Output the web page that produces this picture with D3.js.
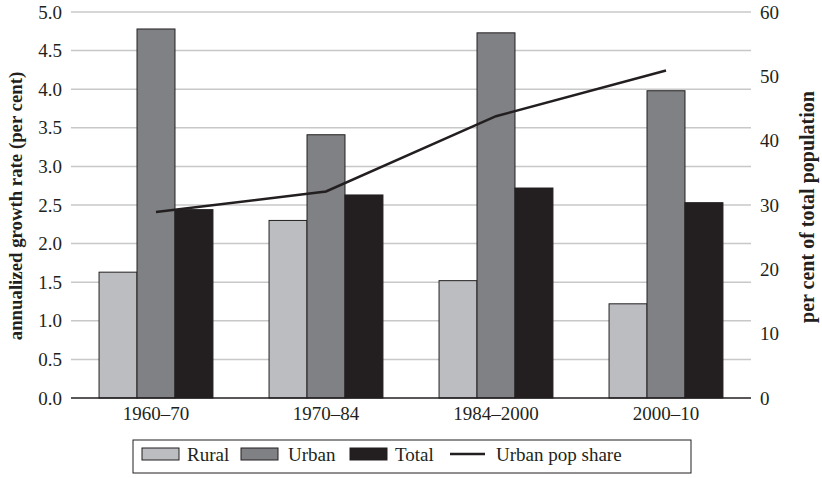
<!DOCTYPE html>
<html><head><meta charset="utf-8">
<script src="https://cdn.jsdelivr.net/npm/d3@7"></script>
<style>body{margin:0;background:#fff}svg{display:block;font-family:"Liberation Serif","Times New Roman",serif}</style>
</head><body><svg id="c" width="822" height="478"></svg>
<script>
const categories = ["1960–70","1970–84","1984–2000","2000–10"];
const rural = [1.63, 2.30, 1.52, 1.22];
const urban = [4.78, 3.41, 4.73, 3.98];
const total = [2.44, 2.63, 2.72, 2.53];
const urbanShare = [28.9, 32.1, 43.8, 50.9];
const leftTicks = [0,0.5,1,1.5,2,2.5,3,3.5,4,4.5,5];
const rightTicks = [0,10,20,30,40,50,60];
const seriesNames = ["Rural","Urban","Total"];
const colors = {Rural:"#bcbdc0", Urban:"#808184", Total:"#231f20"};

const svg = d3.select("#c");
const L = 71, R = 751, T = 12, B = 398;
const x = d3.scaleBand().domain(categories).range([L,R]).paddingInner(0.33).paddingOuter(0.165);
const xs = d3.scaleBand().domain(seriesNames).range([0, x.bandwidth()]);
const y = d3.scaleLinear().domain([0,5]).range([B,T]);
const y2 = d3.scaleLinear().domain([0,60]).range([B,T]);

// gridlines
svg.append("g").selectAll("line").data(leftTicks.slice(1)).join("line")
  .attr("x1",L).attr("x2",R).attr("y1",d=>y(d)).attr("y2",d=>y(d))
  .attr("stroke","#c8c8c8").attr("stroke-width",1.5);

const data = categories.map((c,i)=>({c, vals:[["Rural",rural[i]],["Urban",urban[i]],["Total",total[i]]]}));
const g = svg.append("g").selectAll("g").data(data).join("g").attr("transform",d=>`translate(${x(d.c)},0)`);
g.selectAll("rect").data(d=>d.vals).join("rect")
  .attr("x",d=>xs(d[0])).attr("width",xs.bandwidth())
  .attr("y",d=>y(d[1])).attr("height",d=>B-y(d[1]))
  .attr("fill",d=>colors[d[0]]).attr("stroke","#231f20").attr("stroke-width",1);

// baseline
svg.append("line").attr("x1",L).attr("x2",R).attr("y1",B).attr("y2",B).attr("stroke","#231f20").attr("stroke-width",1.5);

// line
const line = d3.line().x((d,i)=>x(categories[i])+x.bandwidth()/2).y(d=>y2(d));
svg.append("path").datum(urbanShare).attr("d",line).attr("fill","none").attr("stroke","#231f20").attr("stroke-width",2.5);

const fs = 19;
// left ticks
svg.append("g").selectAll("text").data(leftTicks).join("text")
  .attr("x",62).attr("y",d=>y(d)).attr("dy","0.35em").attr("text-anchor","end")
  .attr("font-size",fs).attr("fill","#231f20").text(d=>d.toFixed(1));
// right ticks
svg.append("g").selectAll("text").data(rightTicks).join("text")
  .attr("x",760).attr("y",d=>y2(d)).attr("dy","0.35em").attr("text-anchor","start")
  .attr("font-size",fs).attr("fill","#231f20").text(d=>d);
// x labels
svg.append("g").selectAll("text").data(categories).join("text")
  .attr("x",d=>x(d)+x.bandwidth()/2).attr("y",420).attr("text-anchor","middle")
  .attr("font-size",fs).attr("fill","#231f20").text(d=>d);

// axis titles
svg.append("text").attr("transform","translate(22,206) rotate(-90)").attr("text-anchor","middle")
  .attr("font-size",18.8).attr("font-weight","bold").attr("fill","#231f20").text("annualized growth rate (per cent)");
svg.append("text").attr("transform","translate(814,207) rotate(-90)").attr("text-anchor","middle")
  .attr("font-size",20).attr("font-weight","bold").attr("fill","#231f20").text("per cent of total population");

// legend
const lg = svg.append("g");
lg.append("rect").attr("x",133).attr("y",440).attr("width",558).attr("height",33).attr("fill","#fff").attr("stroke","#231f20").attr("stroke-width",1);
const items = [
  {name:"Rural", sx:142, tx:187},
  {name:"Urban", sx:241, tx:288},
  {name:"Total", sx:350, tx:395}
];
items.forEach(it=>{
  lg.append("rect").attr("x",it.sx).attr("y",448).attr("width",37).attr("height",12)
    .attr("fill",colors[it.name]).attr("stroke","#231f20").attr("stroke-width",1);
  lg.append("text").attr("x",it.tx).attr("y",461).attr("font-size",fs).attr("fill","#231f20").text(it.name);
});
lg.append("line").attr("x1",450).attr("x2",485).attr("y1",454).attr("y2",454).attr("stroke","#231f20").attr("stroke-width",2.5);
lg.append("text").attr("x",496).attr("y",461).attr("font-size",fs).attr("fill","#231f20").text("Urban pop share");
</script></body></html>
